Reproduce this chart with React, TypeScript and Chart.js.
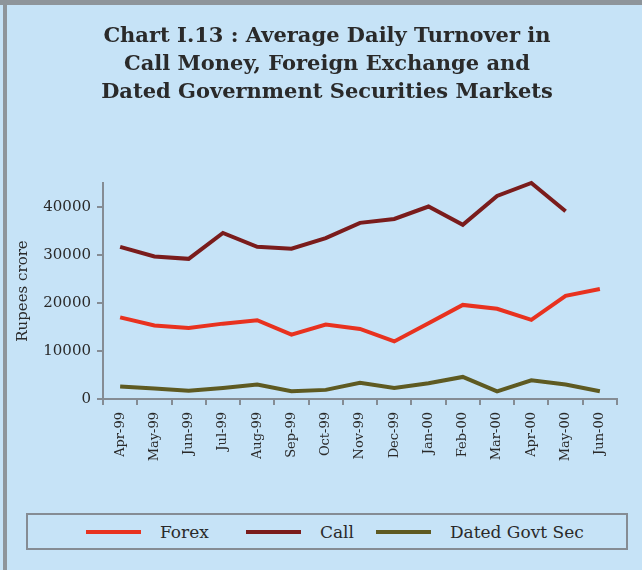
import React, { useEffect, useRef } from "react";
import { Chart, registerables } from "chart.js";
Chart.register(...registerables);

const months = ["Apr-99", "May-99", "Jun-99", "Jul-99", "Aug-99", "Sep-99", "Oct-99", "Nov-99", "Dec-99", "Jan-00", "Feb-00", "Mar-00", "Apr-00", "May-00", "Jun-00"];
const forex = [17000, 15300, 14800, 15700, 16400, 13400, 15500, 14600, 12000, 15800, 19600, 18800, 16500, 21500, 22900];
const call = [31700, 29700, 29200, 34600, 31700, 31300, 33500, 36700, 37500, 40100, 36300, 42300, 45000, 39100, null];
const dated = [2600, 2200, 1700, 2300, 3000, 1600, 1900, 3400, 2300, 3300, 4600, 1600, 3900, 3000, 1600];
const yTicks = [0, 10000, 20000, 30000, 40000];
const titleLines = [
  "Chart I.13 : Average Daily Turnover in",
  "Call Money, Foreign Exchange and",
  "Dated Government Securities Markets",
];
const seriesNames = ["Forex", "Call", "Dated Govt Sec"];
const seriesColors = ["#e8321f", "#7a1c1c", "#5e5a22"];
const yTitle = "Rupees crore";

const BG = "#c6e3f7";
const FRAME = "#8e959b";
const AXIS = "#858c94";
const TEXT = "#2a2a2a";
const FONT = "'DejaVu Serif', serif";

export default function App() {
  const ref = useRef<HTMLCanvasElement>(null);
  useEffect(() => {
    document.body.style.margin = "0";
    const seriesData = [forex, call, dated];
    const chart = new Chart(ref.current!, {
      type: "line",
      data: {
        labels: months,
        datasets: seriesNames.map((n, i) => ({
          label: n,
          data: seriesData[i],
          borderColor: seriesColors[i],
          backgroundColor: seriesColors[i],
          borderWidth: 4,
          pointRadius: 0,
          tension: 0,
          spanGaps: false,
          clip: false as any,
        })),
      },
      options: {
        animation: false,
        responsive: false,
        layout: { padding: { left: 10, right: 25, top: 183, bottom: 31 } },
        plugins: {
          legend: { display: false },
          tooltip: { enabled: false },
          title: { display: false },
        },
        scales: {
          x: {
            offset: true,
            grid: { offset: true, drawOnChartArea: false, color: AXIS, tickLength: 6, lineWidth: 2 },
            border: { color: AXIS, width: 2 },
            ticks: {
              minRotation: 90,
              maxRotation: 90,
              autoSkip: false,
              color: TEXT,
              font: { family: FONT, size: 13 },
              padding: 7,
            },
            afterFit: (s: any) => {
              s.height = 70;
            },
          },
          y: {
            min: 0,
            max: 45000,
            afterBuildTicks: (s: any) => {
              s.ticks = yTicks.map((v) => ({ value: v }));
            },
            grid: { drawOnChartArea: false, color: AXIS, tickLength: 6, lineWidth: 2 },
            border: { color: AXIS, width: 2 },
            ticks: {
              color: TEXT,
              font: { family: FONT, size: 15 },
              padding: 6,
              callback: (v: any) => String(v),
            },
            title: {
              display: true,
              text: yTitle,
              color: TEXT,
              font: { family: FONT, size: 15 },
              padding: { top: 4, bottom: 4 },
            },
            afterFit: (s: any) => {
              s.width = 93;
            },
          },
        },
      },
    });
    return () => chart.destroy();
  }, []);

  return (
    <div style={{ position: "absolute", left: 0, top: 0, width: 642, height: 570, background: BG, overflow: "hidden" }}>
      <div style={{ position: "absolute", left: 0, top: 0, width: 642, height: 5, background: FRAME }} />
      <div style={{ position: "absolute", left: 3, top: 0, width: 4, height: 570, background: FRAME }} />
      <canvas ref={ref} width={642} height={500} style={{ position: "absolute", left: 0, top: 0, width: 642, height: 500 }} />
      <div
        style={{
          position: "absolute",
          left: 12,
          top: 21,
          width: 630,
          textAlign: "center",
          fontFamily: FONT,
          fontWeight: "bold",
          fontSize: 21,
          lineHeight: "28px",
          color: TEXT,
        }}
      >
        {titleLines.map((t) => (
          <div key={t}>{t}</div>
        ))}
      </div>
      <div
        style={{
          position: "absolute",
          left: 26,
          top: 513,
          width: 602,
          height: 37,
          boxSizing: "border-box",
          border: `2px solid ${AXIS}`,
          display: "flex",
          alignItems: "center",
          paddingLeft: 58,
          fontFamily: FONT,
          fontSize: 17,
          color: TEXT,
        }}
      >
        {seriesNames.map((n, i) => (
          <div key={n} style={{ display: "flex", alignItems: "center", marginRight: i === 0 ? 37 : 22 }}>
            <span style={{ display: "inline-block", width: 55, height: 4, background: seriesColors[i], marginRight: 19 }} />
            <span>{n}</span>
          </div>
        ))}
      </div>
    </div>
  );
}
